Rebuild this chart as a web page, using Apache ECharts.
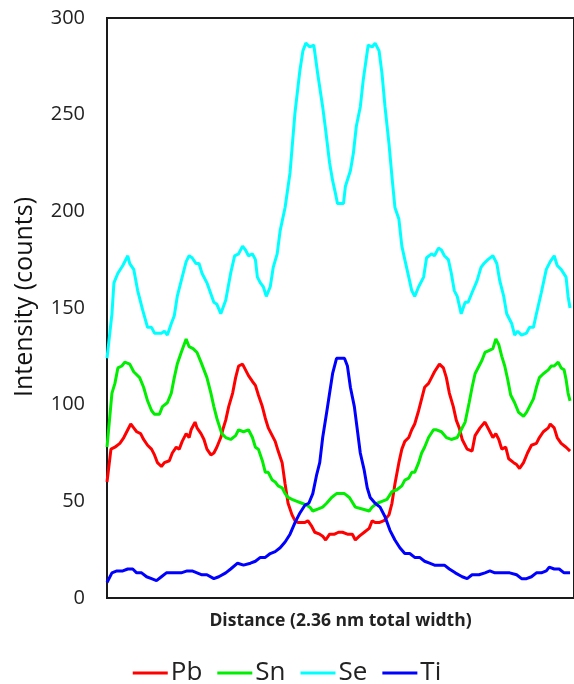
<!DOCTYPE html>
<html>
<head>
<meta charset="utf-8">
<script src="https://cdn.jsdelivr.net/npm/echarts@6/dist/echarts.min.js"></script>
<style>html,body{margin:0;padding:0;background:#fff}#c{width:574px;height:684px}</style>
</head>
<body>
<div id="c"></div>
<script>
// Distance in nm (2.36 nm total width)
const pbX = [0,0.02,0.04,0.065,0.085,0.105,0.12,0.135,0.15,0.17,0.185,0.205,0.225,0.24,0.255,0.275,0.29,0.315,0.33,0.35,0.365,0.38,0.4,0.415,0.425,0.445,0.455,0.475,0.49,0.505,0.525,0.54,0.555,0.575,0.585,0.6,0.615,0.635,0.65,0.665,0.685,0.7,0.715,0.735,0.75,0.765,0.785,0.8,0.815,0.835,0.85,0.865,0.885,0.9,0.915,0.935,0.95,0.965,0.985,1.0,1.015,1.035,1.05,1.075,1.09,1.105,1.125,1.15,1.17,1.19,1.215,1.24,1.255,1.275,1.3,1.325,1.34,1.355,1.375,1.4,1.425,1.44,1.455,1.475,1.49,1.505,1.525,1.54,1.555,1.575,1.59,1.605,1.625,1.64,1.655,1.68,1.7,1.715,1.73,1.75,1.765,1.78,1.795,1.82,1.845,1.86,1.885,1.91,1.93,1.95,1.965,1.98,1.995,2.015,2.03,2.055,2.07,2.085,2.105,2.125,2.145,2.17,2.185,2.205,2.23,2.24,2.26,2.275,2.295,2.32,2.34];
const pbY = [60,77,78,80,83,87,90,88,86,85,82,79,77,74,70,68,70,71,75,78,77,81,85,83,87,91,88,85,82,77,74,75,78,83,87,92,99,106,114,120,121,118,115,112,110,105,99,93,88,84,81,76,70,59,49,43,40,39,39,39,40,37,34,33,32,30,33,33,34,34,33,33,30,32,34,36,40,39,39,40,43,49,59,70,77,81,83,87,90,97,103,109,111,114,117,121,119,114,106,99,92,88,82,77,76,84,88,91,87,83,85,82,77,78,72,70,69,67,70,75,79,80,83,86,88,90,88,83,80,78,76];

const snX = [0,0.025,0.04,0.055,0.075,0.09,0.115,0.135,0.165,0.185,0.205,0.225,0.24,0.265,0.28,0.305,0.325,0.34,0.355,0.375,0.4,0.415,0.435,0.455,0.475,0.49,0.505,0.525,0.54,0.555,0.58,0.6,0.625,0.65,0.665,0.69,0.715,0.735,0.75,0.765,0.785,0.8,0.815,0.835,0.85,0.865,0.885,0.9,0.915,0.935,0.96,0.985,1.01,1.025,1.04,1.065,1.09,1.11,1.135,1.16,1.2,1.225,1.255,1.29,1.325,1.34,1.365,1.39,1.415,1.44,1.465,1.49,1.505,1.525,1.54,1.555,1.575,1.59,1.605,1.625,1.65,1.665,1.69,1.715,1.74,1.77,1.79,1.81,1.83,1.845,1.86,1.88,1.895,1.91,1.93,1.95,1.965,1.98,1.995,2.01,2.025,2.04,2.06,2.08,2.105,2.12,2.135,2.155,2.17,2.185,2.205,2.23,2.245,2.26,2.28,2.295,2.31,2.32,2.33,2.34];
const snY = [78,106,111,119,120,122,121,117,114,109,102,97,95,95,99,101,106,114,121,127,134,130,129,127,122,118,114,106,99,93,85,83,82,84,87,86,87,83,78,77,71,65,65,61,60,58,57,54,52,51,50,49,48,47,45,46,47,49,52,54,54,52,47,46,45,47,49,50,51,55,56,58,61,62,65,65,70,75,78,83,87,87,86,83,82,83,87,91,101,109,116,120,123,127,128,129,134,131,125,120,113,105,101,96,94,96,99,103,109,114,116,118,120,120,122,119,118,113,106,102];

const seX = [0,0.025,0.035,0.055,0.08,0.105,0.115,0.135,0.155,0.18,0.205,0.225,0.24,0.275,0.29,0.305,0.325,0.34,0.355,0.375,0.4,0.415,0.43,0.45,0.465,0.48,0.505,0.54,0.555,0.575,0.6,0.625,0.645,0.665,0.685,0.7,0.715,0.735,0.75,0.76,0.775,0.79,0.805,0.825,0.84,0.86,0.875,0.9,0.925,0.95,0.975,0.99,1.005,1.025,1.045,1.065,1.09,1.105,1.125,1.14,1.155,1.165,1.195,1.205,1.23,1.245,1.26,1.28,1.295,1.32,1.34,1.355,1.375,1.39,1.405,1.425,1.44,1.455,1.475,1.49,1.505,1.525,1.54,1.555,1.575,1.6,1.615,1.64,1.655,1.675,1.69,1.705,1.725,1.74,1.755,1.77,1.79,1.81,1.825,1.845,1.87,1.89,1.905,1.925,1.95,1.97,1.985,2.005,2.02,2.045,2.06,2.075,2.095,2.12,2.135,2.155,2.17,2.195,2.22,2.24,2.26,2.275,2.295,2.32,2.33,2.34];
const seY = [124,147,163,168,172,177,173,170,159,149,140,140,137,137,138,136,142,146,156,164,174,177,176,173,173,168,163,153,152,147,154,168,177,178,182,180,177,178,175,166,163,161,156,161,171,178,190,202,220,251,273,283,287,285,286,271,254,242,225,216,209,204,204,213,221,230,244,254,268,286,285,287,283,271,254,235,218,202,196,182,175,166,159,156,161,166,176,178,177,181,180,177,175,168,159,156,147,153,153,158,164,171,173,175,177,173,164,156,147,142,136,138,136,137,140,140,147,158,170,174,177,172,170,166,156,150];

const tiX = [0,0.025,0.05,0.08,0.105,0.13,0.15,0.175,0.2,0.225,0.25,0.275,0.3,0.325,0.35,0.375,0.405,0.43,0.455,0.48,0.505,0.54,0.565,0.575,0.6,0.625,0.66,0.69,0.725,0.75,0.775,0.8,0.825,0.85,0.875,0.9,0.925,0.95,0.975,1.0,1.02,1.04,1.06,1.075,1.09,1.11,1.125,1.14,1.16,1.2,1.215,1.23,1.25,1.265,1.28,1.3,1.315,1.33,1.355,1.38,1.405,1.43,1.455,1.48,1.505,1.53,1.555,1.58,1.605,1.63,1.655,1.68,1.705,1.73,1.76,1.795,1.82,1.845,1.88,1.91,1.935,1.96,1.985,2.01,2.035,2.07,2.095,2.12,2.145,2.17,2.195,2.22,2.235,2.26,2.285,2.31,2.33,2.34];
const tiY = [8,13,14,14,15,15,13,13,11,10,9,11,13,13,13,13,14,14,13,12,12,10,11,10,13,15,18,17,18,19,21,21,23,24,26,29,33,39,44,48,49,54,64,70,83,96,106,116,124,124,120,109,99,87,75,66,57,52,49,47,42,35,30,26,23,23,21,21,19,18,17,17,17,15,13,11,10,12,12,13,14,13,13,13,13,12,10,10,11,13,13,14,16,15,15,13,13,13];

const seriesNames = ['Pb','Sn','Se','Ti'];
const seriesColors = ['#ff0000','#00ee00','#00ffff','#0000ff'];
const yTicks = [0,50,100,150,200,250,300];

const xs = [pbX, snX, seX, tiX];
const ys = [pbY, snY, seY, tiY];

const chart = echarts.init(document.getElementById('c'), null, {renderer:'canvas'});
chart.setOption({
  animation: false,
  backgroundColor: '#fff',
  grid: {left: 107, top: 18, width: 472, height: 580, show: true, borderColor: '#1a1a1a', borderWidth: 2, backgroundColor: 'transparent'},
  xAxis: {
    type: 'value', min: 0, max: 2.36,
    axisLine: {show: true, lineStyle: {color: '#1a1a1a', width: 2}},
    axisTick: {show: false}, axisLabel: {show: false}, splitLine: {show: false},
    name: 'Distance (2.36 nm total width)', nameLocation: 'middle', nameGap: 14,
    nameTextStyle: {fontFamily: 'Open Sans', fontWeight: 'bold', fontSize: 17.5, color: '#222'}
  },
  yAxis: {
    type: 'value', min: yTicks[0], max: yTicks[yTicks.length-1], interval: 50,
    axisLine: {show: true, lineStyle: {color: '#1a1a1a', width: 2}},
    axisTick: {show: false}, splitLine: {show: false},
    axisLabel: {fontFamily: 'Open Sans', fontSize: 20, color: '#222', margin: 22},
    name: 'Intensity (counts)', nameLocation: 'middle', nameGap: 70, nameRotate: 90,
    nameTextStyle: {fontFamily: 'Open Sans', fontSize: 25, color: '#111', padding: [0, 0, 0, 22]}
  },
  legend: {
    top: 655, left: 'center', icon: 'rect', itemWidth: 35, itemHeight: 3, itemGap: 15,
    textStyle: {fontFamily: 'Open Sans', fontSize: 26, color: '#222', padding: [0,0,0,-2]},
    data: seriesNames
  },
  series: seriesNames.map((n, k) => ({
    name: n, type: 'line', showSymbol: false, symbol: 'none',
    lineStyle: {width: 3, color: seriesColors[k]}, itemStyle: {color: seriesColors[k]},
    data: xs[k].map((x, i) => [x, ys[k][i]])
  }))
});
</script>
</body>
</html>
